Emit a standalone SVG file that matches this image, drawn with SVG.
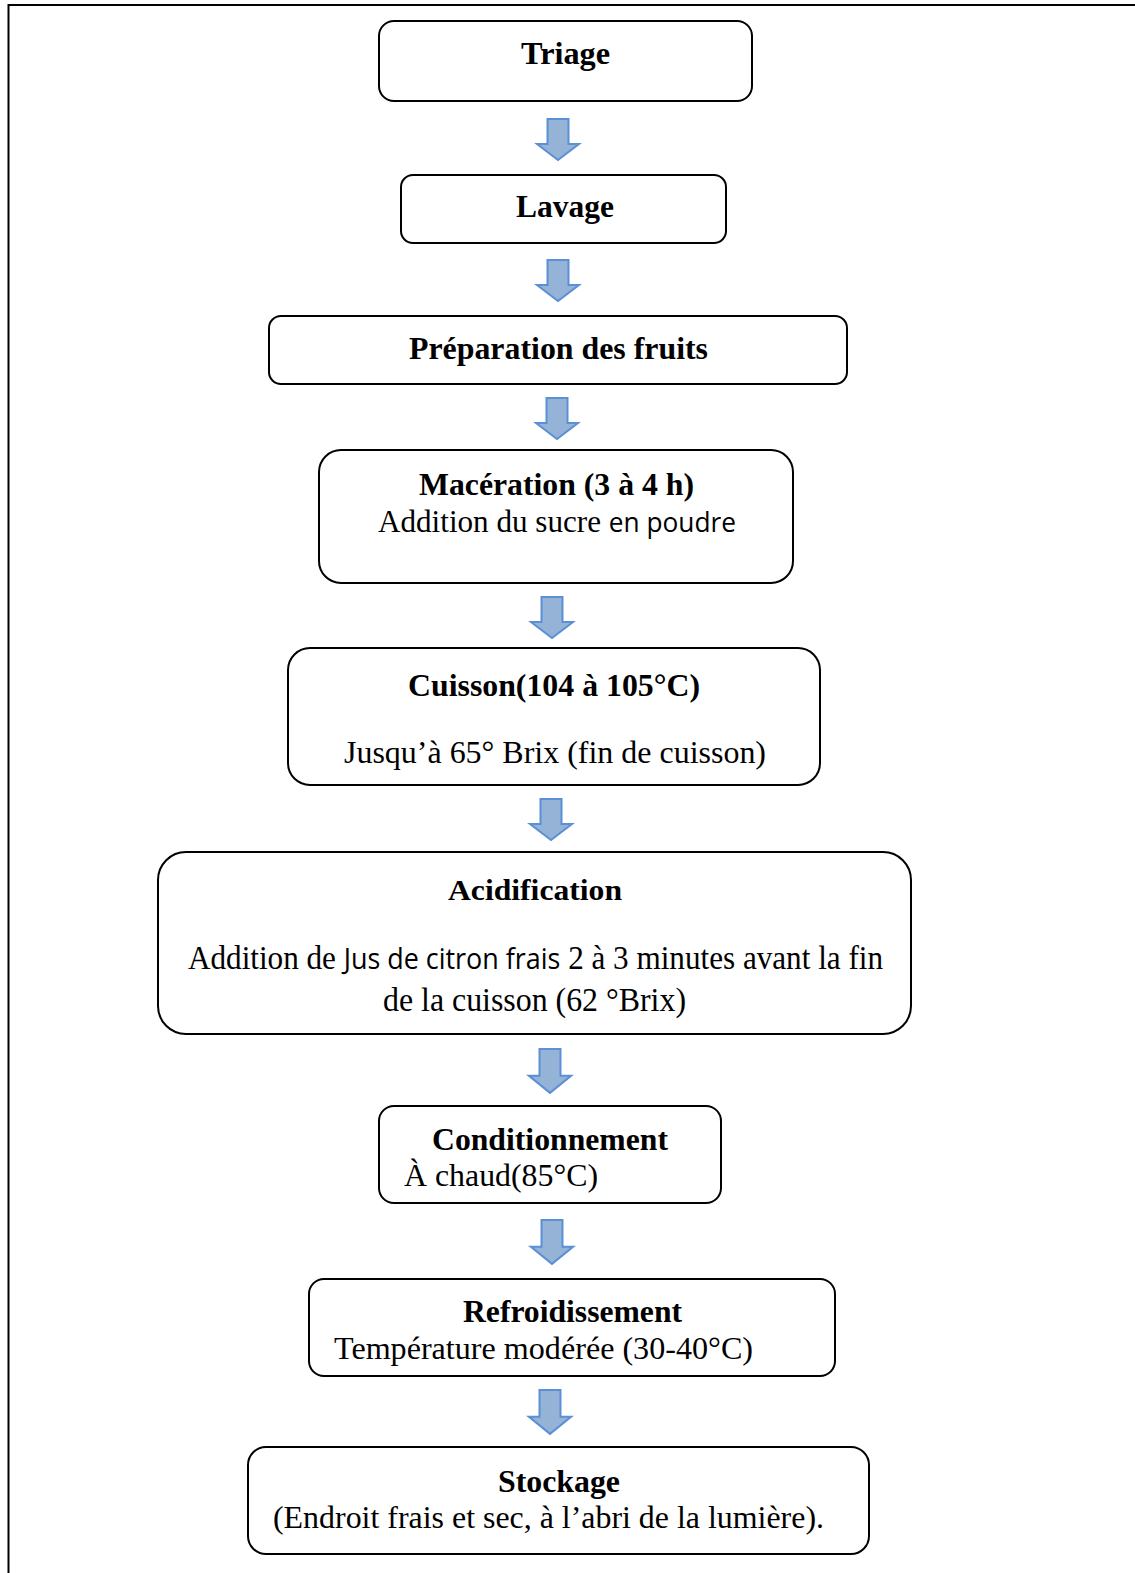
<svg xmlns="http://www.w3.org/2000/svg" width="1135" height="1573" viewBox="0 0 1135 1573">
<style>
.box{fill:#fff;stroke:#000;stroke-width:2}
.t{font-family:"Liberation Serif","Times New Roman",serif;font-size:32px;fill:#000}
.b{font-weight:bold}
.s{font-family:"Open Sans","Liberation Sans",sans-serif;font-size:27px}
.arr{fill:#95b3d7;stroke:#5b8fd6;stroke-width:2;stroke-linejoin:miter}
</style>
<defs>
<path id="ar" d="M-10.5,0 H10.5 V25 H21 L0,41 L-21,25 H-10.5 Z"/>
</defs>
<rect width="1135" height="1573" fill="#fff"/>
<path d="M8.5,1573 V5 H1135" fill="none" stroke="#000" stroke-width="2"/>
<g id="connectors">
<use href="#ar" class="arr" transform="translate(558,119)"/>
<use href="#ar" class="arr" transform="translate(558,260)"/>
<use href="#ar" class="arr" transform="translate(557,398)"/>
<use href="#ar" class="arr" transform="translate(552,597)"/>
<use href="#ar" class="arr" transform="translate(551,799)"/>
<use href="#ar" class="arr" transform="translate(550,1049) scale(1,1.07)"/>
<use href="#ar" class="arr" transform="translate(552,1220) scale(1,1.07)"/>
<use href="#ar" class="arr" transform="translate(550,1390) scale(1,1.07)"/>
</g>
<g id="triage">
<rect class="box" x="379" y="21" width="373" height="80" rx="15"/>
<text class="t b" x="521" y="64" textLength="89" lengthAdjust="spacingAndGlyphs">Triage</text>
</g>
<g id="lavage">
<rect class="box" x="401" y="175" width="325" height="68" rx="12"/>
<text class="t b" x="516" y="217" textLength="98" lengthAdjust="spacingAndGlyphs">Lavage</text>
</g>
<g id="preparation">
<rect class="box" x="269" y="316" width="578" height="68" rx="12"/>
<text class="t b" x="409" y="359" textLength="299" lengthAdjust="spacingAndGlyphs">Préparation des fruits</text>
</g>
<g id="maceration">
<rect class="box" x="319" y="450" width="474" height="133" rx="22"/>
<text class="t b" x="419" y="495" textLength="275" lengthAdjust="spacingAndGlyphs">Macération (3 à 4 h)</text>
<text class="t" x="378" y="532" textLength="358" lengthAdjust="spacingAndGlyphs">Addition du sucre <tspan class="s">en poudre</tspan></text>
</g>
<g id="cuisson">
<rect class="box" x="288" y="648" width="532" height="137" rx="22"/>
<text class="t b" x="408" y="696" textLength="292" lengthAdjust="spacingAndGlyphs">Cuisson(104 à 105°C)</text>
<text class="t" x="344" y="763" textLength="422" lengthAdjust="spacingAndGlyphs">Jusqu’à 65° Brix (fin de cuisson)</text>
</g>
<g id="acidification">
<rect class="box" x="158" y="852" width="753" height="182" rx="28"/>
<text class="t b" x="448" y="900" textLength="174" lengthAdjust="spacingAndGlyphs" style="font-size:30px">Acidification</text>
<text class="t" x="188" y="969" textLength="695" lengthAdjust="spacingAndGlyphs" style="font-size:33px">Addition de <tspan class="s" style="font-size:28.5px">Jus de citron frais</tspan> 2 à 3 minutes avant la fin</text>
<text class="t" x="383" y="1011" textLength="303" lengthAdjust="spacingAndGlyphs" style="font-size:33px">de la cuisson (62 °Brix)</text>
</g>
<g id="conditionnement">
<rect class="box" x="379" y="1106" width="342" height="97" rx="15"/>
<text class="t b" x="432" y="1150" textLength="236" lengthAdjust="spacingAndGlyphs">Conditionnement</text>
<text class="t" x="404" y="1186" textLength="194" lengthAdjust="spacingAndGlyphs">À chaud(85°C)</text>
</g>
<g id="refroidissement">
<rect class="box" x="309" y="1279" width="526" height="97" rx="15"/>
<text class="t b" x="463" y="1322" textLength="219" lengthAdjust="spacingAndGlyphs">Refroidissement</text>
<text class="t" x="334" y="1359" textLength="419" lengthAdjust="spacingAndGlyphs">Température modérée (30-40°C)</text>
</g>
<g id="stockage">
<rect class="box" x="248" y="1447" width="621" height="107" rx="18"/>
<text class="t b" x="498" y="1492" textLength="122" lengthAdjust="spacingAndGlyphs">Stockage</text>
<text class="t" x="273" y="1528" textLength="551" lengthAdjust="spacingAndGlyphs">(Endroit frais et sec, à l’abri de la lumière).</text>
</g>
</svg>
